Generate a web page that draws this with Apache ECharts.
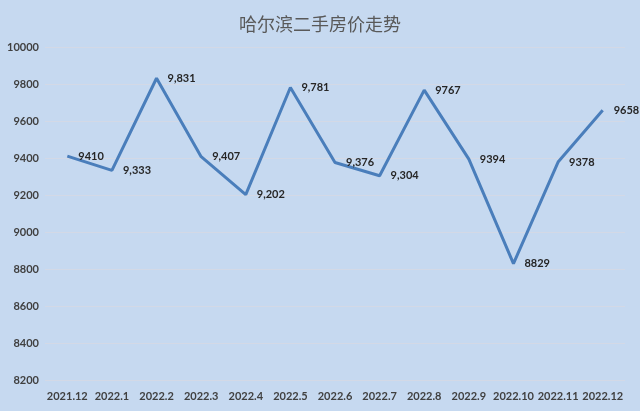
<!DOCTYPE html>
<html>
<head>
<meta charset="utf-8">
<script src="https://cdn.jsdelivr.net/npm/echarts@6/dist/echarts.min.js"></script>
<style>
html,body{margin:0;padding:0;background:#c6d9f0;}
#c{width:640px;height:411px;}
</style>
</head>
<body>
<div id="c"></div>
<script>
var titleText = '哈尔滨二手房价走势';
var categories = ['2021.12','2022.1','2022.2','2022.3','2022.4','2022.5','2022.6','2022.7','2022.8','2022.9','2022.10','2022.11','2022.12'];
var prices = [9410, 9333, 9831, 9407, 9202, 9781, 9376, 9304, 9767, 9394, 8829, 9378, 9658];
var priceLabels = ['9410','9,333','9,831','9,407','9,202','9,781','9,376','9,304','9767','9394','8829','9378','9658'];
var yMin = 8200, yMax = 10000, yStep = 200;

var chart = echarts.init(document.getElementById('c'), null, {renderer:'canvas'});
chart.setOption({
  backgroundColor: '#c6d9f0',
  animation: false,
  title: {
    text: titleText,
    left: 'center',
    top: 10,
    textStyle: {fontFamily: '"Noto Sans CJK SC"', fontSize: 18, fontWeight: 'normal', color: '#595959'}
  },
  grid: {left: 45, right: 15, top: 47, bottom: 31, containLabel: false},
  xAxis: {
    type: 'category',
    data: categories,
    boundaryGap: true,
    axisLine: {show: false},
    axisTick: {show: false},
    axisLabel: {color: '#404040', fontFamily: 'Lato', fontWeight: 'bold', fontSize: 11, margin: 11, interval: 0}
  },
  yAxis: {
    type: 'value',
    min: yMin, max: yMax, interval: yStep,
    axisLine: {show: false},
    axisTick: {show: false},
    axisLabel: {color: '#404040', fontFamily: 'Lato', fontWeight: 'bold', fontSize: 11, margin: 6,
      formatter: function(v){ return String(v); }},
    splitLine: {lineStyle: {color: '#d3d9e6', width: 1}}
  },
  series: [{
    type: 'line',
    data: prices,
    symbol: 'circle',
    symbolSize: 2,
    showSymbol: true,
    showAllSymbol: true,
    itemStyle: {color: 'rgba(74,126,187,0)', borderWidth: 0},
    lineStyle: {color: '#4a7ebb', width: 3},
    label: {
      show: true,
      position: 'right',
      distance: 10,
      color: '#262626',
      fontFamily: 'Lato',
      fontWeight: 'bold',
      fontSize: 11,
      formatter: function(p){ return priceLabels[p.dataIndex]; }
    }
  }]
});
</script>
</body>
</html>
